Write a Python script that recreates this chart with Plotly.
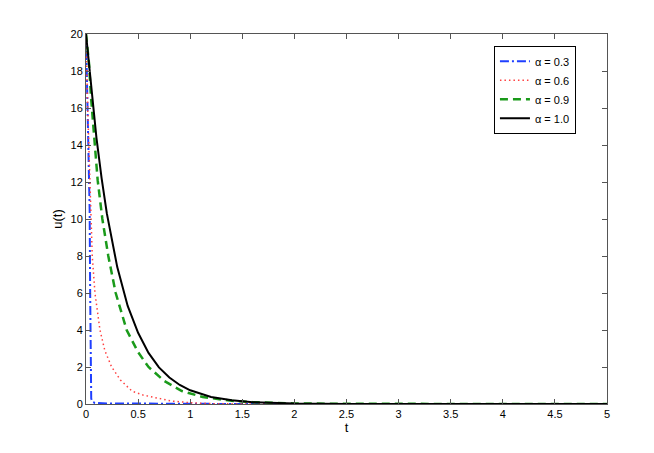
import plotly.graph_objects as go

# values
t_03 = [0, 0.01, 0.02, 0.029, 0.035, 0.04, 0.045, 0.048, 0.05, 0.06, 0.086,
        0.2, 0.5, 1.0, 1.5, 5.0]
u_03 = [20, 17.5, 14.5, 12.0, 10.5, 6.0, 3.0, 1.0, 0.3, 0.12, 0.06,
        0.03, 0.015, 0.005, 0.0, 0.0]

t_06 = [0, 0.005, 0.016, 0.038, 0.048, 0.06, 0.086, 0.134, 0.18, 0.246, 0.33,
        0.44, 0.55, 0.66, 0.82, 1.0, 1.2, 1.5, 5.0]
u_06 = [20, 18, 16, 12, 10, 8, 6, 4, 2.9, 2.0, 1.3,
        0.7, 0.48, 0.34, 0.16, 0.07, 0.02, 0.0, 0.0]

t_09 = [0, 0.029, 0.048, 0.112, 0.157, 0.214, 0.285, 0.39, 0.5, 0.6, 0.75,
        0.92, 1.12, 1.4, 1.6, 1.8, 2.0, 2.5, 3.0, 5.0]
u_09 = [20, 18.4, 16.6, 12.1, 10, 8, 6, 4, 2.8, 2.0, 1.25,
        0.7, 0.38, 0.17, 0.1, 0.06, 0.03, 0.01, 0.0, 0.0]

t_10 = [0, 0.05, 0.1, 0.15, 0.2, 0.3, 0.4, 0.5, 0.6, 0.7, 0.8, 0.9, 1.0,
        1.2, 1.4, 1.6, 1.8, 2.0, 2.5, 3.0, 5.0]
u_10 = [20, 17.0, 14.4, 12.2, 10.3, 7.4, 5.3, 3.85, 2.76, 1.98, 1.43, 1.03, 0.74,
        0.38, 0.2, 0.1, 0.05, 0.027, 0.005, 0.0, 0.0]

labels = ['α = 0.3', 'α = 0.6', 'α = 0.9', 'α = 1.0']

fig = go.Figure()
fig.add_trace(go.Scatter(x=t_03, y=u_03, mode='lines', name=labels[0],
                         line=dict(color='#1f3fff', width=2, dash='9px,3px,2px,3px')))
fig.add_trace(go.Scatter(x=t_06, y=u_06, mode='lines', name=labels[1],
                         line=dict(color='#ff4040', width=1.5, dash='1.5px,3px')))
fig.add_trace(go.Scatter(x=t_09, y=u_09, mode='lines', name=labels[2],
                         line=dict(color='#1a9a1a', width=2.5, dash='8px,5px')))
fig.add_trace(go.Scatter(x=t_10, y=u_10, mode='lines', name=labels[3],
                         line=dict(color='black', width=2)))

axis_style = dict(
    showline=True, linecolor='#555', linewidth=1, mirror='ticks',
    ticks='inside', ticklen=5, tickcolor='#555', showgrid=False, zeroline=False,
    tickfont=dict(size=11, color='black'),
)

fig.update_xaxes(range=[0, 5], dtick=0.5, title=dict(text='t', standoff=2,
                 font=dict(size=13)), **axis_style)
fig.update_yaxes(range=[0, 20], dtick=2, title=dict(text='u(t)', standoff=4,
                 font=dict(size=13)), **axis_style)

fig.update_layout(
    width=654, height=453,
    margin=dict(l=78, r=55, t=26, b=57),
    plot_bgcolor='white', paper_bgcolor='white',
    font=dict(family='Liberation Sans, Arial, sans-serif', color='black'),
    legend=dict(x=0.783, y=0.968, xanchor='left', yanchor='top',
                bgcolor='white', bordercolor='black', borderwidth=1,
                font=dict(size=11), tracegroupgap=0, itemwidth=30),
)

fig.write_html("out.html")
